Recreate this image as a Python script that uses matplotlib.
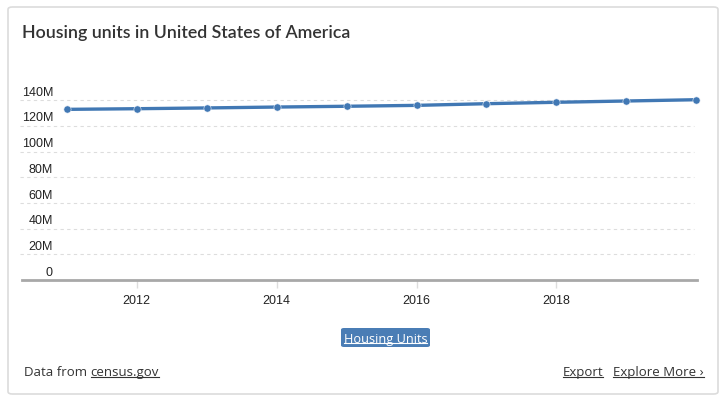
import matplotlib

matplotlib.use('Agg')
import matplotlib.pyplot as plt
from matplotlib.patches import FancyBboxPatch
from matplotlib.lines import Line2D

years = [2011, 2012, 2013, 2014, 2015, 2016, 2017, 2018, 2019, 2020]
housing_units = [132.8, 133.3, 133.9, 134.6, 135.2, 135.9, 137.2, 138.3, 139.3, 140.3]  # millions
y_ticks = [0, 20, 40, 60, 80, 100, 120, 140]
y_labels = ['0', '20M', '40M', '60M', '80M', '100M', '120M', '140M']
x_ticks = [2012, 2014, 2016, 2018]

W, H = 723, 406
LINE = '#4178b4'

fig = plt.figure(figsize=(W / 100, H / 100), dpi=100)
fig.patch.set_facecolor('white')


def px(x, y):
    # pixel coords from top-left -> figure fraction
    return x / W, 1 - y / H


# card
card = FancyBboxPatch(px(8, 395), 710 / W, 387 / H, boxstyle='round,pad=0,rounding_size=0.006',
                      transform=fig.transFigure, facecolor='white', edgecolor='#dcdcdc', lw=1.2,
                      zorder=-10)
fig.patches.append(card)

fig.text(*px(22, 33), 'Housing units in United States of America', fontsize=12.8, fontweight='semibold',
         family='Lato', color='#333333', va='center', ha='left')

ymax = 145
ax_l, ax_r, ax_b = 22, 697, 281
ax_t = ax_b - ymax * 25.7 / 20
ax = fig.add_axes([ax_l / W, 1 - ax_b / H, (ax_r - ax_l) / W, (ax_b - ax_t) / H])
ax.set_facecolor('none')
ax.set_xlim(2010.36, 2020.01)
ax.set_ylim(0, ymax)

for t in y_ticks[1:]:
    ax.plot([2010.33, 2019.96], [t, t], ls=(0, (3, 3)), color='#dddddd', lw=0.8, zorder=1, clip_on=False)
for t, lab in zip(y_ticks, y_labels):
    ax.annotate(lab, xy=(31 / (ax_r - ax_l), t), xycoords=('axes fraction', 'data'),
                xytext=(0, 6), textcoords='offset points', ha='right', va='center',
                fontsize=9, family='Liberation Sans', color='#222222')

ax.plot(years, housing_units, color=LINE, lw=2.4, marker='o', markersize=5.2,
        markeredgecolor='#e8eef6', markeredgewidth=0.4, zorder=3, clip_on=False)

for s in ['top', 'right', 'left']:
    ax.spines[s].set_visible(False)
ax.spines['bottom'].set_color('#a8a8a8')
ax.spines['bottom'].set_linewidth(2)
ax.set_yticks([])
ax.set_xticks(x_ticks)
ax.set_xticklabels([str(x) for x in x_ticks], fontsize=9, family='Liberation Sans', color='#222222')
ax.tick_params(axis='x', length=6, width=1, color='#dddddd', pad=4)

# legend button
btn = FancyBboxPatch(px(341, 348), 89 / W, 19 / H, boxstyle='round,pad=0,rounding_size=0.004',
                     transform=fig.transFigure, facecolor='#4a7db5', edgecolor='none')
fig.patches.append(btn)
t_btn = fig.text(*px(385.5, 339), 'Housing Units', fontsize=9.2, family='Open Sans', color='white',
                 ha='center', va='center')

ty = 373
t_data = fig.text(*px(24, ty), 'Data from ', fontsize=9.5, family='Open Sans', color='#333333',
                  ha='left', va='center')
fig.canvas.draw()
r = fig.canvas.get_renderer()
bb = t_data.get_window_extent(r)
t_census = fig.text(bb.x1 / W, 1 - ty / H, 'census.gov', fontsize=9.5, family='Open Sans',
                    color='#333333', ha='left', va='center')
t_more = fig.text(*px(704, ty), 'Explore More \u203a', fontsize=9.5, family='Open Sans',
                  color='#333333', ha='right', va='center')
fig.canvas.draw()
bb = t_more.get_window_extent(r)
t_export = fig.text((bb.x0 - 10) / W, 1 - ty / H, 'Export', fontsize=9.5, family='Open Sans',
                    color='#333333', ha='right', va='center')
fig.canvas.draw()

for t, col in [(t_btn, 'white'), (t_census, '#333333'), (t_more, '#333333'), (t_export, '#333333')]:
    b = t.get_window_extent(r)
    yy = b.y0 + 2
    fig.lines.append(Line2D([b.x0 / W, b.x1 / W], [yy / H, yy / H], transform=fig.transFigure,
                            color=col, lw=0.8))

fig.savefig('out.png', dpi=100)
